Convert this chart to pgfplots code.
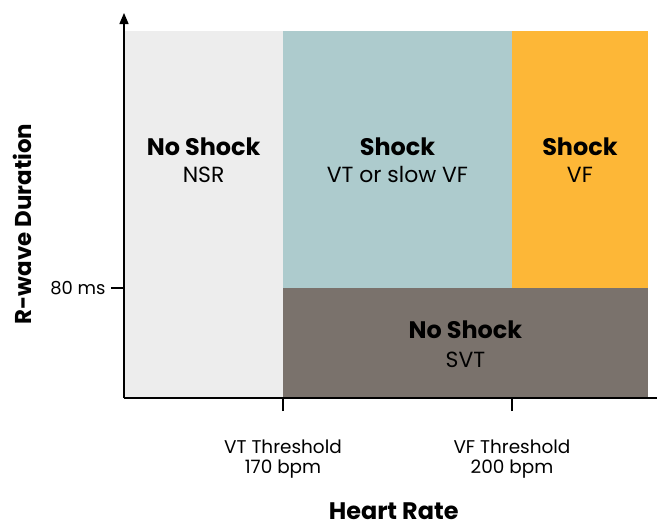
\documentclass[border=0pt]{standalone}
\usepackage{pgfplots}
\pgfplotsset{compat=1.18}
\usepackage{fontspec}
\setmainfont{Poppins}
\usetikzlibrary{arrows.meta}
\definecolor{nsrgray}{RGB}{237,237,237}
\definecolor{vtteal}{RGB}{173,203,205}
\definecolor{vforange}{RGB}{253,183,55}
\definecolor{svtbrown}{RGB}{122,114,108}
\begin{document}
\begin{tikzpicture}
\path[use as bounding box] (-124bp,-129bp) rectangle (533bp,398bp);
\begin{axis}[
  at={(0,0)}, anchor=south west,
  scale only axis, width=533bp, height=385bp,
  xmin=149.17, xmax=219, ymin=0, ymax=280,
  enlargelimits=false, clip=false, axis on top,
  axis lines=left,
  axis line style={line width=1.3bp, black},
  x axis line style={-},
  y axis line style={-{Triangle[length=11bp,width=9bp]}},
  xtick={170,200}, ytick={80},
  xticklabels={{VT Threshold\\170 bpm},{VF Threshold\\200 bpm}},
  yticklabels={80 ms},
  tick align=outside, major tick length=13bp,
  tick style={line width=1.1bp, black},
  xticklabel style={align=center, font=\fontsize{18.5}{20.5}\selectfont, yshift=-25bp},
  yticklabel style={font=\fontsize{18}{20}\selectfont, xshift=-2bp},
  xlabel={\textbf{Heart Rate}},
  ylabel={\textbf{R-wave Duration}},
  xlabel style={at={(axis cs:184.5,-88.4)}, anchor=base, inner sep=0pt, font=\fontsize{24}{28}\selectfont},
  ylabel style={at={(axis cs:135.9,126.5)}, anchor=center, rotate=0, font=\fontsize{23}{26}\selectfont},
]
% NSR region
\addplot[fill=nsrgray, draw=none] coordinates {(149.17,0) (170,0) (170,266.9) (149.17,266.9)} -- cycle;
% VT or slow VF region
\addplot[fill=vtteal, draw=none] coordinates {(170,80) (200,80) (200,266.9) (170,266.9)} -- cycle;
% VF region
\addplot[fill=vforange, draw=none] coordinates {(200,80) (217.8,80) (217.8,266.9) (200,266.9)} -- cycle;
% SVT region
\addplot[fill=svtbrown, draw=none] coordinates {(170,0) (217.8,0) (217.8,80) (170,80)} -- cycle;

\node[anchor=base, font=\fontsize{24}{28}\selectfont\bfseries] at (axis cs:159.6,176.7) {No Shock};
\node[anchor=base, font=\fontsize{22}{26}\selectfont] at (axis cs:159.6,156.4) {NSR};
\node[anchor=base, font=\fontsize{24}{28}\selectfont\bfseries] at (axis cs:185,176.7) {Shock};
\node[anchor=base, font=\fontsize{22}{26}\selectfont] at (axis cs:185,156.4) {VT or slow VF};
\node[anchor=base, font=\fontsize{24}{28}\selectfont\bfseries] at (axis cs:208.9,176.7) {Shock};
\node[anchor=base, font=\fontsize{22}{26}\selectfont] at (axis cs:208.9,156.4) {VF};
\node[anchor=base, font=\fontsize{24}{28}\selectfont\bfseries] at (axis cs:193.9,43.6) {No Shock};
\node[anchor=base, font=\fontsize{22}{26}\selectfont] at (axis cs:193.9,22.5) {SVT};
\end{axis}
\end{tikzpicture}
\end{document}
